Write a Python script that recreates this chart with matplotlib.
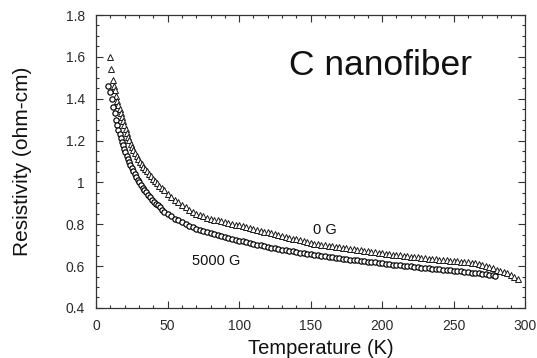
import numpy as np
import matplotlib.pyplot as plt
from matplotlib.ticker import MultipleLocator, FixedLocator, FixedFormatter

plt.rcParams['font.family'] = ['Liberation Sans', 'DejaVu Sans']

# 0 G run (open triangles)
T_0G = [9.8, 10.5, 11.6, 12.5, 13.3, 14.1, 14.9, 15.6, 16.4, 17.2, 18.0, 18.9, 19.8, 20.7,
        21.5, 22.4, 23.3, 24.2, 25.1, 26.1, 27.2, 28.3, 29.4, 30.6, 31.8, 33.0, 34.3, 35.6,
        36.9, 38.3, 39.7, 41.2, 42.7, 44.2, 45.8, 47.4, 50.0, 52.5, 55.0, 57.5, 60.0, 62.5,
        65.0, 67.5, 70.0, 72.5, 75.0, 77.5, 80.0, 82.5, 85.0, 87.5, 90.0, 92.5, 95.0, 97.5,
        100.0, 102.5, 105.0, 107.5, 110.0, 112.5, 115.0, 117.5, 120.0, 122.5, 125.0, 127.5,
        130.0, 132.5, 135.0, 137.5, 140.0, 142.5, 145.0, 147.5, 150.0, 152.5, 155.0, 157.5,
        160.0, 162.5, 165.0, 167.5, 170.0, 172.5, 175.0, 177.5, 180.0, 182.5, 185.0, 187.5,
        190.0, 192.5, 195.0, 197.5, 200.0, 202.5, 205.0, 207.5, 210.0, 212.5, 215.0, 217.5,
        220.0, 222.5, 225.0, 227.5, 230.0, 232.5, 235.0, 237.5, 240.0, 242.5, 245.0, 247.5,
        250.0, 252.5, 255.0, 257.5, 260.0, 262.5, 265.0, 267.5, 270.0, 272.5, 275.0, 277.5,
        280.0, 282.5, 285.0, 287.5, 290.0, 292.5, 295.0]
R_0G = [1.60, 1.54, 1.49, 1.46, 1.44, 1.415, 1.39, 1.37, 1.35, 1.331, 1.314, 1.294, 1.274, 1.254,
        1.235, 1.218, 1.201, 1.185, 1.17, 1.155, 1.14, 1.126, 1.112, 1.099, 1.087, 1.075, 1.063, 1.052,
        1.041, 1.030, 1.018, 1.006, 0.995, 0.984, 0.973, 0.963, 0.946, 0.932, 0.918, 0.905, 0.892, 0.880,
        0.869, 0.859, 0.851, 0.844, 0.838, 0.832, 0.827, 0.822, 0.818, 0.814, 0.810, 0.806, 0.802, 0.798,
        0.794, 0.790, 0.786, 0.782, 0.778, 0.774, 0.769, 0.765, 0.761, 0.757, 0.752, 0.748,
        0.744, 0.740, 0.735, 0.731, 0.727, 0.723, 0.718, 0.714, 0.710, 0.707, 0.705, 0.702,
        0.700, 0.697, 0.695, 0.692, 0.690, 0.687, 0.685, 0.683, 0.680, 0.678, 0.675, 0.673,
        0.670, 0.668, 0.665, 0.663, 0.661, 0.659, 0.657, 0.655, 0.653, 0.651, 0.649, 0.647,
        0.645, 0.643, 0.641, 0.639, 0.638, 0.636, 0.634, 0.633, 0.631, 0.629, 0.628, 0.626,
        0.624, 0.622, 0.621, 0.619, 0.617, 0.615, 0.613, 0.611, 0.607, 0.601, 0.595, 0.589,
        0.583, 0.578, 0.572, 0.566, 0.557, 0.547, 0.536]

# 5000 G run (open circles)
T_5kG = [8.6, 9.8, 11.0, 12.1, 13.0, 13.9, 14.8, 15.6, 16.4, 17.2, 18.0, 18.8, 19.6, 20.4,
         21.3, 22.2, 23.1, 24.0, 25.0, 26.0, 27.0, 28.0, 29.1, 30.2, 31.4, 32.6, 33.8, 35.0,
         36.3, 37.6, 39.0, 40.4, 41.8, 43.2, 44.6, 46.0, 47.5, 50.0, 52.5, 55.0, 57.5, 60.0,
         62.5, 65.0, 67.5, 70.0, 72.5, 75.0, 77.5, 80.0, 82.5, 85.0, 87.5, 90.0, 92.5, 95.0,
         97.5, 100.0, 102.5, 105.0, 107.5, 110.0, 112.5, 115.0, 117.5, 120.0, 122.5, 125.0,
         127.5, 130.0, 132.5, 135.0, 137.5, 140.0, 142.5, 145.0, 147.5, 150.0, 152.5, 155.0,
         157.5, 160.0, 162.5, 165.0, 167.5, 170.0, 172.5, 175.0, 177.5, 180.0, 182.5, 185.0,
         187.5, 190.0, 192.5, 195.0, 197.5, 200.0, 202.5, 205.0, 207.5, 210.0, 212.5, 215.0,
         217.5, 220.0, 222.5, 225.0, 227.5, 230.0, 232.5, 235.0, 237.5, 240.0, 242.5, 245.0,
         247.5, 250.0, 252.5, 255.0, 257.5, 260.0, 262.5, 265.0, 267.5, 270.0, 272.5, 275.0,
         277.5, 279.0]
R_5kG = [1.46, 1.43, 1.40, 1.36, 1.33, 1.30, 1.275, 1.25, 1.23, 1.21, 1.195, 1.178, 1.16, 1.144,
         1.128, 1.112, 1.097, 1.083, 1.068, 1.054, 1.040, 1.027, 1.013, 1.000, 0.987, 0.975, 0.963, 0.952,
         0.941, 0.930, 0.918, 0.907, 0.898, 0.890, 0.880, 0.870, 0.860, 0.848, 0.837, 0.827, 0.818, 0.809,
         0.800, 0.792, 0.785, 0.778, 0.772, 0.766, 0.761, 0.756, 0.751, 0.747, 0.742, 0.738, 0.734, 0.730,
         0.726, 0.722, 0.718, 0.714, 0.710, 0.706, 0.702, 0.699, 0.695, 0.692, 0.688, 0.685,
         0.682, 0.679, 0.676, 0.673, 0.670, 0.667, 0.664, 0.662, 0.659, 0.656, 0.654, 0.651,
         0.649, 0.646, 0.644, 0.642, 0.639, 0.637, 0.635, 0.633, 0.631, 0.629, 0.627, 0.625,
         0.623, 0.621, 0.619, 0.617, 0.615, 0.613, 0.611, 0.609, 0.607, 0.605, 0.603, 0.601,
         0.599, 0.598, 0.596, 0.594, 0.592, 0.591, 0.589, 0.588, 0.586, 0.585, 0.583, 0.582,
         0.580, 0.578, 0.576, 0.575, 0.573, 0.571, 0.569, 0.567, 0.565, 0.563, 0.561, 0.558,
         0.555, 0.552]

yticks = [0.4, 0.6, 0.8, 1.0, 1.2, 1.4, 1.6, 1.8]
ytick_labels = ['0.4', '0.6', '0.8', '1', '1.2', '1.4', '1.6', '1.8']
xticks = [0, 50, 100, 150, 200, 250, 300]

fig = plt.figure(figsize=(5.37, 3.58), dpi=100)
ax = fig.add_axes([0.179, 0.140, 0.799, 0.818])

ax.plot(T_0G, R_0G, ls='none', marker='^', ms=3.8, mfc='white', mec='#1a1a1a', mew=0.7)
ax.plot(T_5kG, R_5kG, ls='none', marker='o', ms=3.8, mfc='white', mec='#000000', mew=0.85)

ax.set_xlim(0, 300)
ax.set_ylim(0.4, 1.8)
ax.xaxis.set_major_locator(FixedLocator(xticks))
ax.xaxis.set_minor_locator(MultipleLocator(10))
ax.yaxis.set_major_locator(FixedLocator(yticks))
ax.yaxis.set_major_formatter(FixedFormatter(ytick_labels))
ax.yaxis.set_minor_locator(MultipleLocator(0.05))
ax.tick_params(which='both', direction='in', top=True, right=True, colors='#333333',
               labelcolor='#2a2a2a', labelsize=10, width=0.8)
ax.tick_params(which='major', length=5, pad=8)
ax.tick_params(which='minor', length=2.5)
for s in ax.spines.values():
    s.set_color('#333333')
    s.set_linewidth(0.9)

# axis titles placed by hand to sit like the scanned figure
fig.text(321 / 537, 1 - 354 / 358, 'Temperature (K)', fontsize=14.5, color='#111111',
         ha='center', va='baseline')
ax.set_ylabel('Resistivity (ohm-cm)', fontsize=15, color='#111111')
ax.yaxis.set_label_coords(-0.149, 0.5)

ax.text(160, 0.773, '0 G', fontsize=10.5, ha='center', va='center', color='#111111')
ax.text(84, 0.625, '5000 G', fontsize=10.5, ha='center', va='center', color='#111111')
ax.text(199, 1.513, 'C nanofiber', fontsize=25.5, ha='center', va='baseline', color='#111111')

fig.savefig('out.png', dpi=100)
